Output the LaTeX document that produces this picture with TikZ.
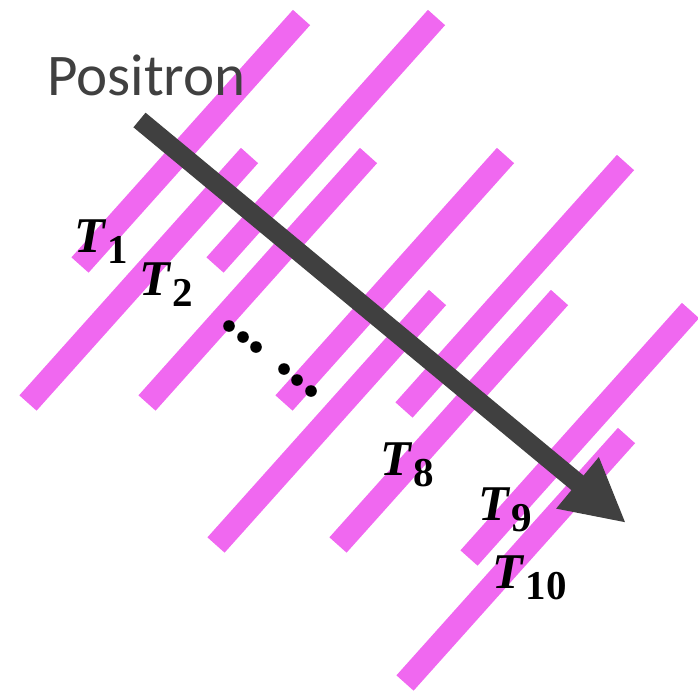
\documentclass[tikz,border=0pt]{standalone}
\usepackage{fontspec}
\usepackage{xcolor}
\usetikzlibrary{arrows.meta}
\newfontfamily\calibrifont{Carlito}
\newfontfamily\labelfont{Liberation Serif}
\definecolor{strippink}{RGB}{240,104,240}
\definecolor{trackgray}{RGB}{64,64,64}
\newcommand{\tsub}[1]{{\fontsize{50}{54}\selectfont\bfseries\itshape T}\kern3pt\raisebox{-11pt}{\fontsize{41}{44}\selectfont\bfseries #1}}

\begin{document}
\begin{tikzpicture}[x=1pt,y=-1pt,
    strip/.style={strippink, line width=23pt},
    track/.style={trackgray, line width=19pt, -{Triangle[length=63pt,width=62pt]}},
    tlabel/.style={anchor=base west, inner sep=0pt, font=\labelfont}]
  \useasboundingbox (0,0) rectangle (698,691);

  % Strips
  \foreach \x/\y in {80/265, 28/403, 215/265, 147/403, 284/403,
                     404/410, 216/545, 338/545, 469/558, 405/683}
    \draw[strip] (\x,\y) -- ++(221.5,-247.5);

  % Dots between the strips
  \foreach \x/\y in {229/326, 243/337, 256/347, 284/369, 297/380, 311/391}
    \fill[black] (\x,\y) circle (5.8);

  % Positron track
  \coordinate (start) at (139.5,120);
  \coordinate (tip) at (626,523);
  \draw[track] (start) -- (tip);

  \node[anchor=base west, inner sep=0pt, trackgray, font=\calibrifont\fontsize{59}{64}\selectfont]
    (positron) at (47,95) {Positron};

  \node[tlabel] (t1) at (74,252) {\tsub{1}};
  \node[tlabel] (t2) at (139,295) {\tsub{2}};
  \node[tlabel] (t8) at (380,475) {\tsub{8}};
  \node[tlabel] (t9) at (478,520) {\tsub{9}};
  \node[tlabel] (t10) at (492,588) {\tsub{10}};
\end{tikzpicture}
\end{document}
